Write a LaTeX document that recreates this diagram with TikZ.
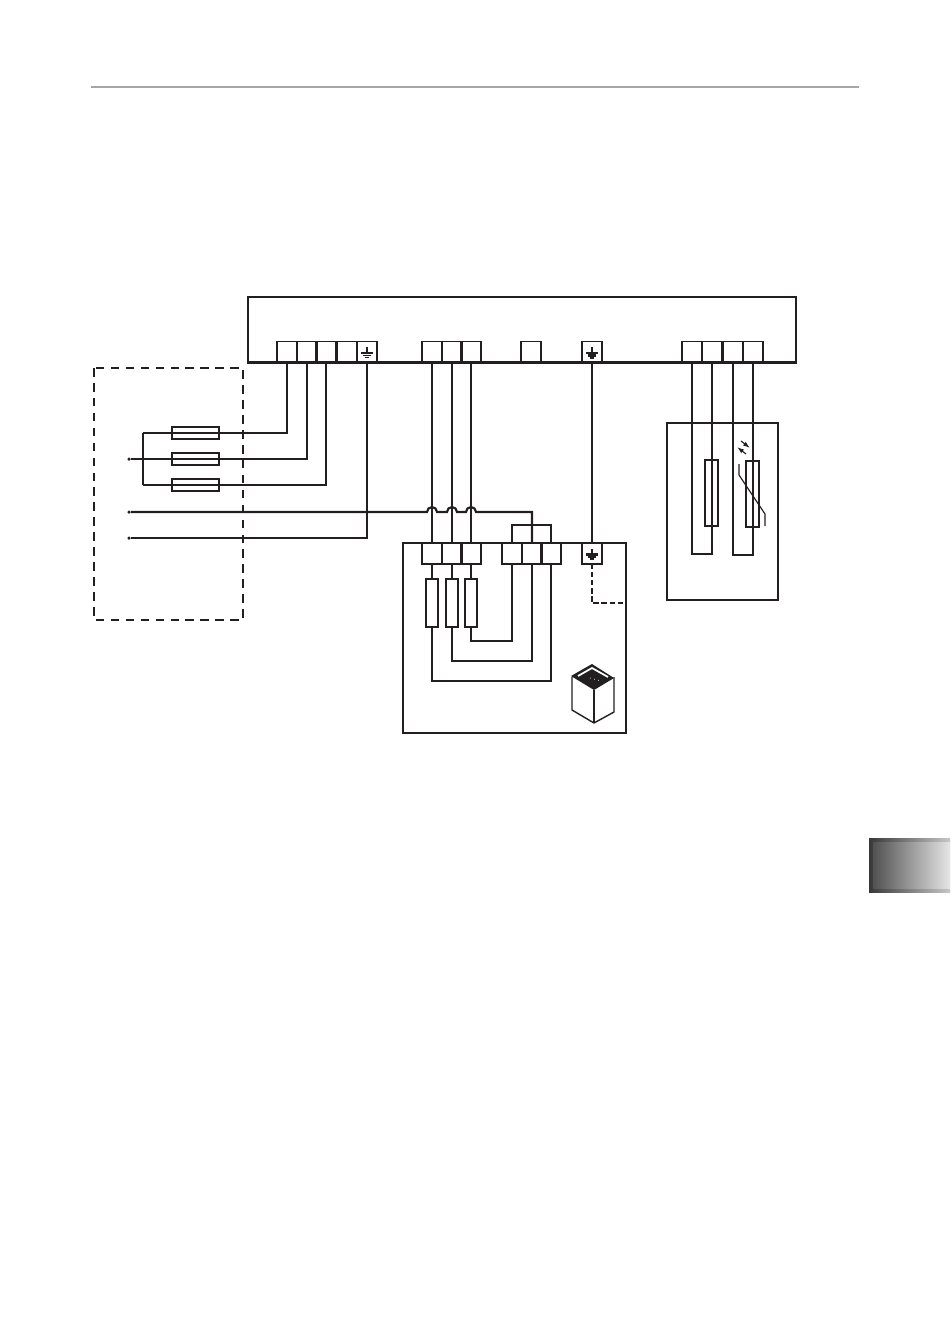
\documentclass[tikz,border=0pt]{standalone}
\usetikzlibrary{arrows.meta}
\definecolor{wirecol}{HTML}{231F20}
\definecolor{rulecol}{HTML}{A6A6A6}
\tikzset{
  wire/.style={draw=wirecol,line width=1.2pt},
  thinwire/.style={draw=wirecol,line width=0.65pt},
  casing/.style={draw=wirecol,line width=1.2pt},
  term/.style={draw=wirecol,line width=0.6pt,minimum width=0.4cm,minimum height=0.42cm,inner sep=0pt,outer sep=0pt},
  fuse/.style={draw=wirecol,line width=1.2pt,minimum width=0.94cm,minimum height=0.24cm,inner sep=0pt,outer sep=0pt},
  heatres/.style={draw=wirecol,line width=1.2pt,minimum width=0.24cm,minimum height=0.96cm,inner sep=0pt,outer sep=0pt},
  sensres/.style={draw=wirecol,line width=1.2pt,minimum width=0.26cm,minimum height=1.32cm,inner sep=0pt,outer sep=0pt},
  feed/.style={circle,fill=wirecol,minimum size=0.07cm,inner sep=0pt,outer sep=0pt},
}
\newcommand{\earthsym}[2]{
\draw [wirecol,line width=0.9pt] (#1) ++(0,-5) -- ++(0,6);
\draw [wirecol,line width=#2] (#1) ++(-6,1) -- ++(12,0);
\draw [wirecol,line width=#2] (#1) ++(-4,3.5) -- ++(8,0);
\draw [wirecol,line width=#2] (#1) ++(-2,5.5) -- ++(4,0);
}
\begin{document}
\begin{tikzpicture}[x=0.02cm,y=-0.02cm]
\useasboundingbox (0,0) rectangle (950,1338);
% page furniture
\draw [rulecol,line width=1.1pt](91,87) -- (859,87);
\shade [left color=black!78,right color=black!22](869,838) rectangle (950,892);
\shade [left color=black!68,right color=black!10](873,842) rectangle (950,888);
% control unit
\draw [casing](248,297) rectangle (796,362.5);
\node [term] (lineA) at (287,352) {};
\node [term] (lineB) at (307,352) {};
\node [term] (lineC) at (326,352) {};
\node [term] (lineN) at (347,352) {};
\node [term] (linePE) at (367,352) {};
\node [term] (outA) at (432,352) {};
\node [term] (outB) at (452,352) {};
\node [term] (outC) at (471,352) {};
\node [term] (outN) at (531,352) {};
\node [term] (outPE) at (592,352) {};
\node [term] (senA) at (692,352) {};
\node [term] (senB) at (712,352) {};
\node [term] (senC) at (733,352) {};
\node [term] (senD) at (753,352) {};
\earthsym{linePE}{0.7pt}
\earthsym{outPE}{1.3pt}
% supply
\draw [casing,dash pattern=on 4.9pt off 3.6pt](94,368) rectangle (243,620);
\node [fuse] (fuseA) at (195.5,433) {};
\node [fuse] (fuseB) at (195.5,459) {};
\node [fuse] (fuseC) at (195.5,485) {};
\node [feed] (feedB) at (129,459) {};
\node [feed] (feedN) at (129,512) {};
\node [feed] (feedPE) at (129,538) {};
\coordinate (busA) at (143,433);
\coordinate (busC) at (143,485);
\draw [wire](busA) -- (busC);
\draw [wire](busA) -- (fuseA.center) -- (fuseA.east) -| (lineA.south);
\draw [wire](feedB) -- (fuseB.center) -- (fuseB.east) -| (lineB.south);
\draw [wire](busC) -- (fuseC.center) -- (fuseC.east) -| (lineC.south);
\draw [wire](feedPE) -| (linePE.south);
% heater box
\draw [casing](403,543) rectangle (626,733);
\node [term] (hotA) at (432,553.5) {};
\node [term] (hotB) at (452,553.5) {};
\node [term] (hotC) at (471,553.5) {};
\node [term] (retA) at (512,553.5) {};
\node [term] (retB) at (532,553.5) {};
\node [term] (retC) at (551,553.5) {};
\node [term] (hotPE) at (592,553.5) {};
\earthsym{hotPE}{1.3pt}
\node [heatres] (resA) at (432,603) {};
\node [heatres] (resB) at (452,603) {};
\node [heatres] (resC) at (471,603) {};
\draw [wire](outA.south) -- (hotA.north);
\draw [wire](outB.south) -- (hotB.north);
\draw [wire](outC.south) -- (hotC.north);
\draw [wire](outPE.south) -- (hotPE.north);
\draw [wire](feedN) -- (427,512) arc [start angle=180,end angle=360,radius=5] -- (447,512) arc [start angle=180,end angle=360,radius=5] -- (466,512) arc [start angle=180,end angle=360,radius=5] -| (retB.north);
\coordinate (bridge) at (531,525);
\draw [wire](retA.north) |- (bridge) -| (retC.north);
\draw [wire](hotA.south) -- (resA.north);
\draw [wire](hotB.south) -- (resB.north);
\draw [wire](hotC.south) -- (resC.north);
\coordinate (backA) at (490,681);
\coordinate (backB) at (490,661);
\coordinate (backC) at (490,641);
\draw [wire](resA.south) |- (backA) -| (retC.south);
\draw [wire](resB.south) |- (backB) -| (retB.south);
\draw [wire](resC.south) |- (backC) -| (retA.south);
\coordinate (frameE) at (626,603);
\draw [draw=wirecol,line width=1pt,dash pattern=on 3pt off 1.6pt](hotPE.south) |- (frameE);
% heater stove
\draw [wirecol,line width=0.8pt,line join=round](572,677) -- (572,710) -- (594,723) -- (614,712) -- (614,677);
\draw [wirecol,line width=0.8pt](594,690) -- (594,723);
\fill [wirecol,line join=round](592,664) -- (571,676) -- (594,690) -- (614,678) -- cycle;
\draw [white,line width=1pt](578,676) -- (592,668) -- (608,677);
\draw [white,line width=0.4pt,dotted](590,678) -- (601,681);
% sensor box
\draw [casing](667,423) rectangle (778,600);
\node [sensres] (senseA) at (711.5,493) {};
\node [sensres] (senseB) at (752.5,494) {};
\coordinate (loopA) at (702,554);
\coordinate (loopB) at (743,555);
\draw [wire](senA.south) |- (loopA) -| (senB.south);
\draw [wire](senC.south) |- (loopB) -| (senD.south);
\draw [thinwire](739,464) -- (739,475) -- (765,514) -- (765,526);
\draw [thinwire,-{Latex[length=4pt,width=2.6pt]}](741,441) -- (750,448);
\draw [thinwire,{Latex[length=4pt,width=2.6pt]}-](737,447) -- (746,454);
\end{tikzpicture}
\end{document}
